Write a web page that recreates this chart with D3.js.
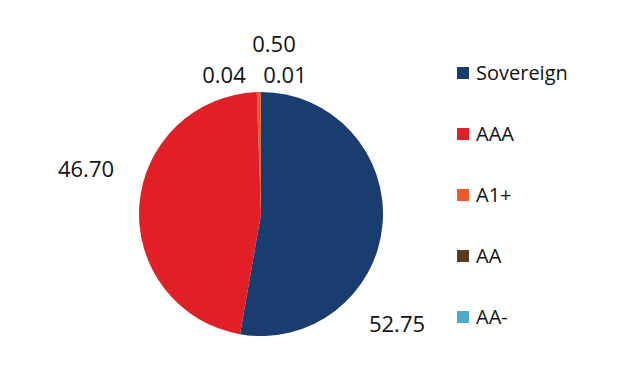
<!DOCTYPE html>
<html>
<head>
<meta charset="utf-8">
<script src="https://cdn.jsdelivr.net/npm/d3@7"></script>
<style>
  body { margin: 0; background: #fff; }
  text { font-family: "Open Sans", "Noto Sans", sans-serif; fill: #111; }
</style>
</head>
<body>
<div id="chart"></div>
<script>
var categories = ["Sovereign", "AAA", "A1+", "AA", "AA-"];
var values = [52.75, 46.70, 0.50, 0.04, 0.01];
var valueLabels = ["52.75", "46.70", "0.50", "0.04", "0.01"];
var colors = ["#1a3d6f", "#e11f26", "#ef5a24", "#5b3a1f", "#4aaac8"];

var width = 627, height = 374;
var cx = 261, cy = 214, radius = 122;

var svg = d3.select("#chart").append("svg")
    .attr("width", width)
    .attr("height", height);

var data = categories.map(function (c, i) {
    return {name: c, value: values[i], label: valueLabels[i], color: colors[i]};
});

var pie = d3.pie()
    .sort(null)
    .value(function (d) { return d.value; });

var arc = d3.arc().innerRadius(0).outerRadius(radius);

var g = svg.append("g").attr("transform", "translate(" + cx + "," + cy + ")");

g.selectAll("path")
    .data(pie(data))
    .enter().append("path")
    .attr("d", arc)
    .attr("fill", function (d) { return d.data.color; });

// data labels, offset from the pie centre (placed like excel's best fit)
var labelOffsets = [[136, 118], [-175, -37], [13, -162], [-37, -131], [24, -131]];

g.selectAll("text.lbl")
    .data(data)
    .enter().append("text")
    .attr("class", "lbl")
    .attr("x", function (d, i) { return labelOffsets[i][0]; })
    .attr("y", function (d, i) { return labelOffsets[i][1]; })
    .attr("text-anchor", "middle")
    .style("font-size", "22px")
    .text(function (d) { return d.label; });

// legend
var legend = svg.append("g").attr("transform", "translate(457,0)");
var ly = d3.scalePoint().domain(categories).range([73, 317]);

var item = legend.selectAll("g")
    .data(data)
    .enter().append("g")
    .attr("transform", function (d) { return "translate(0," + ly(d.name) + ")"; });

item.append("rect")
    .attr("x", 0)
    .attr("y", -6)
    .attr("width", 12)
    .attr("height", 12)
    .attr("fill", function (d) { return d.color; });

item.append("text")
    .attr("x", 19)
    .attr("y", 7)
    .style("font-size", "20px")
    .text(function (d) { return d.name; });
</script>
</body>
</html>
